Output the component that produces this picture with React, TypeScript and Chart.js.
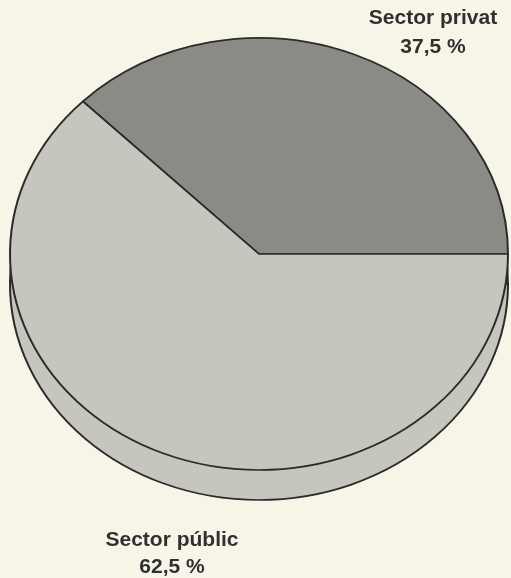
import React, { useEffect, useRef } from "react";
import { Chart, registerables } from "chart.js";

Chart.register(...registerables);

const categories = ["Sector privat", "Sector públic"];
const shares = [37.5, 62.5];
const sliceColors = ["#8b8b86", "#c6c6bf"];

const PAGE_BG = "#f7f5e8";
const SIDE_COLOR = "#c6c6bf";
const OUTLINE = "#2b2b2b";
const Y_SCALE = 216 / 249;
const DEPTH = 30;

const fmt = (v: number) => `${v.toString().replace(".", ",")} %`;

const pie3d = {
  id: "pie3d",
  beforeDatasetsDraw(chart: any) {
    const ctx = chart.ctx;
    const meta = chart.getDatasetMeta(0);
    const el0 = meta.data[0];
    const cx = el0.x;
    const cy = el0.y;
    // side wall
    ctx.save();
    ctx.translate(0, DEPTH);
    ctx.translate(cx, cy);
    ctx.scale(1, Y_SCALE);
    ctx.translate(-cx, -cy);
    meta.data.forEach((el: any) => {
      const o = el.options;
      const bg = o.backgroundColor;
      o.backgroundColor = SIDE_COLOR;
      el.draw(ctx);
      o.backgroundColor = bg;
    });
    ctx.restore();
    // top face
    ctx.save();
    ctx.translate(cx, cy);
    ctx.scale(1, Y_SCALE);
    ctx.translate(-cx, -cy);
  },
  afterDatasetsDraw(chart: any) {
    chart.ctx.restore();
  },
  afterDraw(chart: any) {
    const ctx = chart.ctx;
    const pos = [
      [433, 18, 47],
      [172, 540, 567],
    ];
    ctx.save();
    ctx.fillStyle = "#303030";
    ctx.font = "bold 21px 'Liberation Sans', Arial, sans-serif";
    ctx.textAlign = "center";
    ctx.textBaseline = "middle";
    categories.forEach((c, i) => {
      ctx.fillText(c, pos[i][0], pos[i][1]);
      ctx.fillText(fmt(shares[i]), pos[i][0], pos[i][2]);
    });
    ctx.restore();
  },
};

export default function App() {
  const ref = useRef<HTMLCanvasElement>(null);
  useEffect(() => {
    document.body.style.margin = "0";
    document.body.style.background = PAGE_BG;
    const chart = new Chart(ref.current!, {
      type: "pie",
      data: {
        labels: categories,
        datasets: [
          {
            data: shares,
            backgroundColor: sliceColors,
            borderColor: OUTLINE,
            borderWidth: 2,
            hoverOffset: 0,
            offset: 0,
          },
        ],
      },
      options: {
        responsive: false,
        animation: false,
        devicePixelRatio: 1,
        rotation: -45,
        layout: { padding: { left: 9, right: 2, top: 4, bottom: 74 } },
        plugins: { legend: { display: false }, tooltip: { enabled: false } },
        events: [],
      },
      plugins: [pie3d],
    });
    return () => chart.destroy();
  }, []);
  return (
    <div style={{ position: "absolute", left: 0, top: 0, width: 511, height: 578, background: PAGE_BG }}>
      <canvas ref={ref} width={511} height={578} />
    </div>
  );
}
